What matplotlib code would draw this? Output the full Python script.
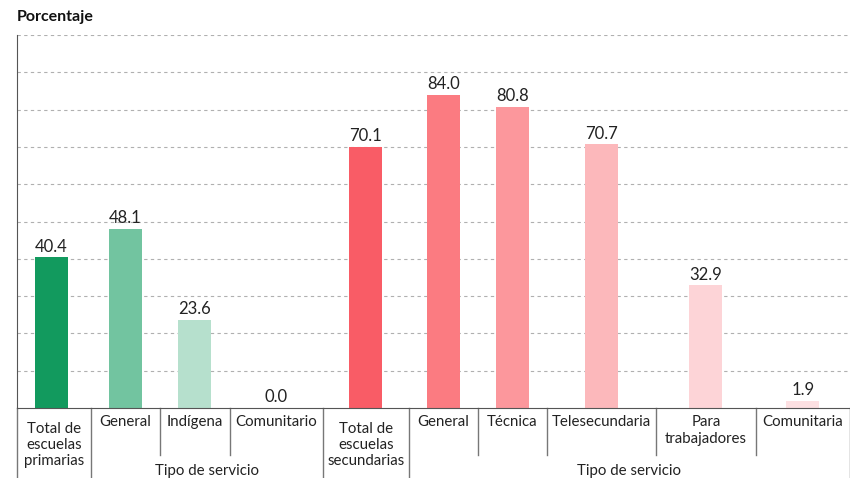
import numpy as np
import matplotlib.pyplot as plt
from matplotlib.transforms import blended_transform_factory

plt.rcParams['font.family'] = ['Lato', 'DejaVu Sans']

categorias = ['Total de\nescuelas\nprimarias', 'General', 'Indígena', 'Comunitario',
              'Total de\nescuelas\nsecundarias', 'General', 'Técnica', 'Telesecundaria',
              'Para\ntrabajadores', 'Comunitaria']
valores = [40.4, 48.1, 23.6, 0.0, 70.1, 84.0, 80.8, 70.7, 32.9, 1.9]
colores = ['#129a5e', '#72c4a0', '#b6e0cd', '#dff2e9',
           '#f95c66', '#fb7b81', '#fc979c', '#fcb8bb', '#fdd4d7', '#fde0e2']
es_total = [True, False, False, False, True, False, False, False, False, False]
grupos = ['Tipo de servicio', 'Tipo de servicio']

# bordes de las celdas del eje x (layout)
bordes = np.array([0, 74, 143, 213, 306, 392, 461, 530, 639, 739, 833])
centros = (bordes[:-1] + bordes[1:]) / 2
centros[0] -= 2.5

fig = plt.figure(figsize=(8.5, 4.78), dpi=100)
ax = fig.add_axes([17 / 850, 70 / 478, 833 / 850, 373 / 478])
ax.set_xlim(0, 833)
ax.set_ylim(0, 100)

for y in range(10, 101, 10):
    ax.axhline(y, color='#b0b0b0', lw=0.8, ls=(0, (3, 3)), zorder=0)

ax.bar(centros, valores, width=33, color=colores, zorder=2)
for xc, v in zip(centros, valores):
    ax.text(xc, v + 0.7, f'{v:.1f}', ha='center', va='bottom', fontsize=12, color='#222222')

for s in ['top', 'right']:
    ax.spines[s].set_visible(False)
ax.spines['left'].set_color('#555555')
ax.spines['bottom'].set_color('#555555')
ax.set_xticks([])
ax.set_yticks([])

tr = blended_transform_factory(ax.transData, ax.transAxes)
largos = [0, 74, 306, 392, 833]
for b in bordes:
    fondo = -0.188 if b in largos else -0.126
    ax.plot([b, b], [0, fondo], transform=tr, color='#777777', lw=1, clip_on=False)

for xc, cat, tot in zip(bordes[:-1] / 2 + bordes[1:] / 2, categorias, es_total):
    if tot:
        ax.text(xc, -0.099, cat, transform=tr, ha='center', va='center',
                fontsize=10.8, color='#222222', linespacing=1.2)
    else:
        ax.text(xc, -0.020, cat, transform=tr, ha='center', va='top',
                fontsize=10.8, color='#222222', linespacing=1.2)

ax.text((74 + 306) / 2, -0.168, grupos[0], transform=tr, ha='center', va='center',
        fontsize=10.8, color='#222222')
ax.text((392 + 833) / 2, -0.168, grupos[1], transform=tr, ha='center', va='center',
        fontsize=10.8, color='#222222')

fig.text(17 / 850, 1 - 17 / 478, 'Porcentaje', ha='left', va='center',
         fontsize=11.5, fontweight='bold', color='#111111')

fig.savefig('out.png', dpi=100)
